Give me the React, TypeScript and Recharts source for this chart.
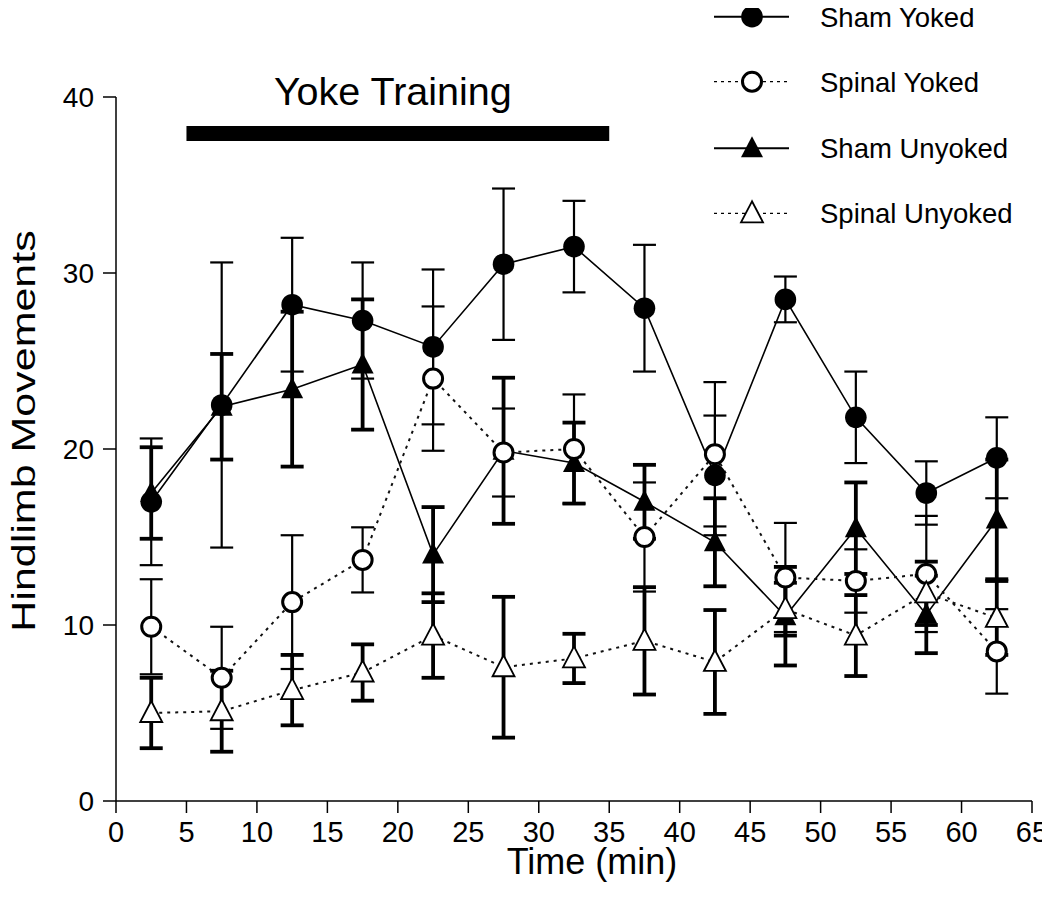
import React from 'react';
import { LineChart, Line, XAxis, YAxis, ErrorBar, ReferenceArea, Legend } from 'recharts';

// ---- data ----
const times = [2.5, 7.5, 12.5, 17.5, 22.5, 27.5, 32.5, 37.5, 42.5, 47.5, 52.5, 57.5, 62.5];

const shamYoked = [17.0, 22.5, 28.2, 27.3, 25.8, 30.5, 31.5, 28.0, 18.5, 28.5, 21.8, 17.5, 19.5];
const shamYokedErr = [3.6, 8.1, 3.8, 3.3, 4.4, 4.3, 2.6, 3.6, 3.4, 1.3, 2.6, 1.8, 2.3];

const spinalYoked = [9.9, 7.0, 11.3, 13.7, 24.0, 19.8, 20.0, 15.0, 19.7, 12.7, 12.5, 12.9, 8.5];
const spinalYokedErr = [2.7, 2.9, 3.8, 1.85, 4.1, 2.5, 3.1, 3.1, 4.1, 3.1, 1.8, 3.3, 2.4];

const shamUnyoked = [17.5, 22.4, 23.4, 24.8, 14.0, 19.9, 19.2, 17.0, 14.7, 10.5, 15.5, 10.6, 16.0];
const shamUnyokedErr = [2.6, 3.0, 4.4, 3.7, 2.7, 4.15, 2.3, 2.1, 2.5, 2.8, 2.6, 2.2, 3.4];

const spinalUnyoked = [5.0, 5.1, 6.3, 7.3, 9.4, 7.6, 8.1, 9.1, 7.9, 10.9, 9.4, 11.8, 10.4];
const spinalUnyokedErr = [2.0, 2.3, 2.0, 1.6, 2.4, 4.0, 1.4, 3.05, 2.95, 1.5, 2.3, 1.8, 2.1];

const xTicks = [0, 5, 10, 15, 20, 25, 30, 35, 40, 45, 50, 55, 60, 65];
const yTicks = [0, 10, 20, 30, 40];

const yokeLabel = 'Yoke Training';
const yokeStart = 5;
const yokeEnd = 35;
const yokeBarLow = 37.5;
const yokeBarHigh = 38.35;

const legendLabels = ['Sham Yoked', 'Spinal Yoked', 'Sham Unyoked', 'Spinal Unyoked'];

const data = times.map((t, i) => ({
  t,
  shamYoked: shamYoked[i],
  shamYokedErr: shamYokedErr[i],
  spinalYoked: spinalYoked[i],
  spinalYokedErr: spinalYokedErr[i],
  shamUnyoked: shamUnyoked[i],
  shamUnyokedErr: shamUnyokedErr[i],
  spinalUnyoked: spinalUnyoked[i],
  spinalUnyokedErr: spinalUnyokedErr[i],
}));

// ---- markers ----
const filledCircle = (cx: number, cy: number, key?: any) => (
  <circle key={key} cx={cx} cy={cy} r={10.8} fill="#000" />
);
const openCircle = (cx: number, cy: number, key?: any) => (
  <circle key={key} cx={cx} cy={cy} r={9.5} fill="#fff" stroke="#000" strokeWidth={3} />
);
const triPoints = (cx: number, cy: number) =>
  `${cx},${cy - 12} ${cx - 11},${cy + 9} ${cx + 11},${cy + 9}`;
const filledTri = (cx: number, cy: number, key?: any) => (
  <polygon key={key} points={triPoints(cx, cy)} fill="#000" />
);
const openTri = (cx: number, cy: number, key?: any) => (
  <polygon key={key} points={triPoints(cx, cy)} fill="#fff" stroke="#000" strokeWidth={1.8} />
);

const mkDot = (fn: any) => (p: any) =>
  p.cx == null || p.cy == null ? <g key={p.index} /> : fn(p.cx, p.cy, p.index);

const markerFns = [filledCircle, openCircle, filledTri, openTri];
const dashed = [false, true, false, true];

const renderLegend = () => (
  <svg width={340} height={240} style={{ overflow: 'visible' }}>
    {legendLabels.map((lab, i) => {
      const y = [8.7, 73.7, 140.3, 205.3][i];
      return (
        <g key={lab}>
          <line
            x1={6}
            x2={81}
            y1={y}
            y2={y}
            stroke="#000"
            strokeWidth={dashed[i] ? 1.3 : 2}
            strokeDasharray={dashed[i] ? '3 4' : undefined}
          />
          {markerFns[i](44, y)}
          <text x={112} y={y} dy="0.36em" fontSize={27.5} fill="#000">
            {lab}
          </text>
        </g>
      );
    })}
  </svg>
);

const XLabel = (props: any) => {
  const vb = props.viewBox || { x: 108, y: 793, width: 916, height: 60 };
  return (
    <text x={vb.x + vb.width / 2 + 18} y={vb.y + 73} textAnchor="middle" fontSize={36} fill="#000">
      Time (min)
    </text>
  );
};

const YLabel = (props: any) => {
  const vb = props.viewBox || { x: 0, y: 89, width: 108, height: 704 };
  const x = vb.x + 27;
  const y = vb.y + vb.height / 2 - 18;
  return (
    <g transform={`translate(${x}, ${y}) rotate(-90) scale(1, 0.76)`}>
      <text x={0} y={0} textAnchor="middle" fontSize={43} fill="#000">
        Hindlimb Movements
      </text>
    </g>
  );
};

export default function App() {
  return (
    <div style={{ width: 1042, height: 896, fontFamily: '"Liberation Sans", Arial, Helvetica, sans-serif' }}>
      <LineChart width={1042} height={896} data={data} margin={{ top: 89, right: 18, left: 0, bottom: 43 }}>
        <XAxis
          type="number"
          dataKey="t"
          domain={[0, 65]}
          ticks={xTicks}
          interval={0}
          height={60}
          tickSize={12}
          tickMargin={8}
          axisLine={{ stroke: '#000', strokeWidth: 1.5 }}
          tickLine={{ stroke: '#000', strokeWidth: 1.5 }}
          tick={{ fill: '#000', fontSize: 29 }}
          label={{ content: XLabel }}
        />
        <YAxis
          type="number"
          domain={[0, 40]}
          ticks={yTicks}
          interval={0}
          width={108}
          tickSize={13}
          tickMargin={9}
          axisLine={{ stroke: '#000', strokeWidth: 1.5 }}
          tickLine={{ stroke: '#000', strokeWidth: 1.5 }}
          tick={{ fill: '#000', fontSize: 28 }}
          label={{ content: YLabel }}
        />
        <ReferenceArea
          x1={yokeStart}
          x2={yokeEnd}
          y1={yokeBarLow}
          y2={yokeBarHigh}
          fill="#000"
          fillOpacity={1}
          stroke="none"
          ifOverflow="visible"
          label={{ value: yokeLabel, position: 'top', offset: 21, fontSize: 39.5, fill: '#000', dx: -5 }}
        />
        <Legend
          layout="horizontal"
          verticalAlign="middle"
          align="center"
          content={renderLegend}
          wrapperStyle={{ top: 0, left: 700, width: 340, height: 240 }}
        />
        <Line
          dataKey="shamUnyoked"
          stroke="#000"
          strokeWidth={1.6}
          dot={mkDot(filledTri)}
          activeDot={false}
          isAnimationActive={false}
        >
          <ErrorBar dataKey="shamUnyokedErr" direction="y" width={11.5} stroke="#000" strokeWidth={3.8} />
        </Line>
        <Line
          dataKey="shamYoked"
          stroke="#000"
          strokeWidth={1.6}
          dot={mkDot(filledCircle)}
          activeDot={false}
          isAnimationActive={false}
        >
          <ErrorBar dataKey="shamYokedErr" direction="y" width={11.5} stroke="#000" strokeWidth={2.2} />
        </Line>
        <Line
          dataKey="spinalYoked"
          stroke="#111"
          strokeWidth={2}
          strokeDasharray="3 5"
          dot={mkDot(openCircle)}
          activeDot={false}
          isAnimationActive={false}
        >
          <ErrorBar dataKey="spinalYokedErr" direction="y" width={11.5} stroke="#000" strokeWidth={2.2} />
        </Line>
        <Line
          dataKey="spinalUnyoked"
          stroke="#111"
          strokeWidth={2}
          strokeDasharray="3 5"
          dot={mkDot(openTri)}
          activeDot={false}
          isAnimationActive={false}
        >
          <ErrorBar dataKey="spinalUnyokedErr" direction="y" width={11.5} stroke="#000" strokeWidth={3.8} />
        </Line>
      </LineChart>
    </div>
  );
}
